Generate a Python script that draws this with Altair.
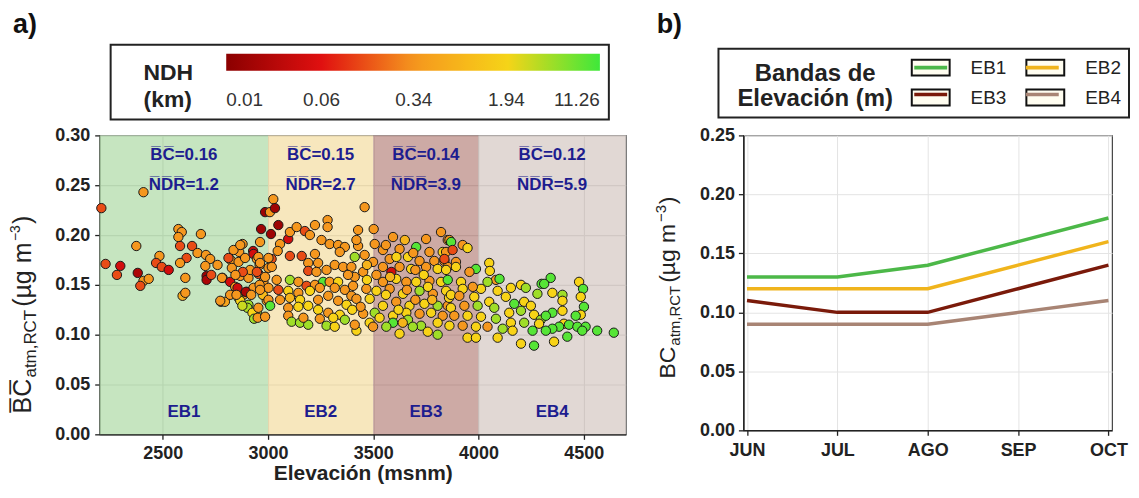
import altair as alt
import pandas as pd

FONT = "Liberation Sans"
INK = "#222222"
NAVY = "#1d1d8f"
CREAM = "#fffdf0"

# ---------------- panel a : points (elevation, BC, NDH) ----------------
elev = [2408, 2208, 2574, 2590, 2574, 2681, 2374, 2582, 2639, 2665, 2705, 2725, 2484, 2613, 2228, 2298,
        2468, 2495, 2528, 2582, 2702, 2760, 2282, 2381, 2408, 2433, 2393, 2607, 2708, 2708, 2730, 2784,
        2594, 2607, 2776, 2795,
        2879, 2929, 2863, 2823, 2836, 2868, 2812, 2860, 2891, 2931, 2947, 2828, 2781, 2820, 2868, 2907,
        2955, 2844, 2883, 2860, 2899, 2931, 2978, 2907, 2947, 2939, 2868, 2994, 2773, 2820, 2855, 2895,
        2850, 2902, 2926, 2934, 2878, 3002, 3017, 2962, 2960, 2915, 2880, 2845, 2960, 2920, 2975,
        3025, 2986, 3009, 3033, 3049, 2967, 3014, 3096, 3104, 3136, 3175, 3199, 3223, 3283, 3283, 3254,
        3057, 3046, 3104, 3160, 3223, 3293, 3333, 3365, 3341, 2954, 3002, 2962, 3018, 2947, 2986, 3191,
        3238, 3191, 3230, 3278, 3317, 3357, 3396, 3104, 3144, 3183, 3223, 3262, 3293, 3333, 3041, 3002,
        2962, 3049, 3096, 3144, 3199, 3246, 3317, 3365, 3396, 3002, 3057, 3104, 3152, 3191, 3238, 3286,
        3333, 3373, 2954, 3010, 3096, 3144, 3238, 3286, 3341, 3096, 3112, 3152, 3191, 3246, 3278, 3317,
        3365, 2951, 2986, 3168, 3310,
        3459, 3428, 3502, 3594, 3751, 3822, 3854, 3507, 3428, 3704, 3625, 3546, 3767, 3830, 3412, 3459,
        3499, 3578, 3665, 3720, 3790, 3838, 3546, 3586, 3625, 3680, 3751, 3806, 3854, 3452, 3515, 3412,
        3546, 3609, 3657, 3704, 3767, 3822, 3404, 3467, 3515, 3578, 3641, 3720, 3783, 3846, 3420, 3483,
        3546, 3609, 3672, 3743, 3806, 3854, 3452, 3507, 3594, 3657, 3720, 3775, 3830, 3483, 3530, 3594,
        3665, 3727, 3806, 3420, 3412, 3499, 3625, 3759, 3806, 3562, 3688,
        3560, 3650, 3690, 3610, 3700, 3580, 3740, 3660, 3760, 3620, 3700, 3780, 3860, 3560, 3640,
        3420, 3470, 3380, 3440, 3470, 3400,
        3862, 3925, 3948, 3870, 3846, 3877, 3838, 3893, 4051, 4054, 3988, 4083, 4100, 4043, 3957, 3854,
        3917, 3893, 3846, 4154, 4202, 4225, 4280, 4300, 4091, 4130, 4012, 3973, 3925, 3869, 3909, 3980,
        4051, 4217, 4249, 4170, 3869, 3933, 3996, 4075, 4146, 4202, 4264, 4296, 3885, 3948, 4012, 4083,
        4154, 4217, 3862, 3925, 3988, 4043, 4115, 4162, 4257, 3948, 3988, 4091, 4202, 4264,
        4343, 4312, 4351, 4399, 4399, 4478, 4497, 4486, 4501, 4486, 4462, 4399, 4351, 4320, 4288, 4406,
        4383, 4351, 4320, 4430, 4470, 4509, 4564, 4643, 4422, 4359, 4493]
bc = [0.243, 0.227, 0.206, 0.203, 0.198, 0.201, 0.189, 0.189, 0.189, 0.182, 0.180, 0.176, 0.179, 0.177, 0.171, 0.169,
      0.172, 0.168, 0.165, 0.172, 0.169, 0.170, 0.160, 0.162, 0.154, 0.156, 0.149, 0.157, 0.159, 0.155, 0.160, 0.157,
      0.139, 0.142, 0.133, 0.133,
      0.191, 0.184, 0.183, 0.175, 0.185, 0.190, 0.177, 0.173, 0.177, 0.181, 0.176, 0.167, 0.157, 0.153, 0.159, 0.157,
      0.161, 0.148, 0.140, 0.137, 0.143, 0.147, 0.153, 0.130, 0.122, 0.117, 0.134, 0.134, 0.134, 0.140, 0.147, 0.143,
      0.140, 0.127, 0.122, 0.116, 0.129, 0.167, 0.176, 0.193, 0.170, 0.165, 0.163, 0.160, 0.150, 0.140, 0.140,
      0.236, 0.223, 0.223, 0.227, 0.210, 0.206, 0.201, 0.196, 0.203, 0.208, 0.204, 0.200, 0.210, 0.215, 0.208, 0.195,
      0.191, 0.184, 0.179, 0.179, 0.181, 0.191, 0.190, 0.188, 0.183, 0.178, 0.177, 0.172, 0.168, 0.163, 0.158, 0.172,
      0.172, 0.164, 0.163, 0.165, 0.170, 0.168, 0.168, 0.155, 0.153, 0.149, 0.150, 0.153, 0.153, 0.153, 0.155, 0.147,
      0.145, 0.145, 0.144, 0.142, 0.144, 0.147, 0.147, 0.145, 0.139, 0.135, 0.135, 0.137, 0.135, 0.129, 0.135, 0.139,
      0.134, 0.130, 0.127, 0.129, 0.127, 0.128, 0.125, 0.122, 0.120, 0.119, 0.113, 0.112, 0.110, 0.116, 0.109, 0.108,
      0.115, 0.117, 0.118, 0.117, 0.117,
      0.228, 0.205, 0.206, 0.198, 0.196, 0.203, 0.195, 0.191, 0.189, 0.188, 0.186, 0.185, 0.183, 0.183, 0.178, 0.180,
      0.173, 0.176, 0.178, 0.174, 0.174, 0.174, 0.168, 0.163, 0.168, 0.166, 0.168, 0.166, 0.168, 0.163, 0.160, 0.158,
      0.153, 0.156, 0.153, 0.153, 0.154, 0.153, 0.149, 0.146, 0.144, 0.146, 0.141, 0.144, 0.141, 0.144, 0.136, 0.136,
      0.129, 0.133, 0.129, 0.131, 0.129, 0.129, 0.121, 0.122, 0.119, 0.122, 0.121, 0.122, 0.119, 0.112, 0.117, 0.112,
      0.115, 0.109, 0.112, 0.104, 0.110, 0.108, 0.101, 0.103, 0.100, 0.108, 0.108,
      0.190, 0.195, 0.182, 0.178, 0.165, 0.158, 0.160, 0.145, 0.148, 0.125, 0.135, 0.135, 0.137, 0.140, 0.112,
      0.195, 0.170, 0.160, 0.128, 0.155, 0.125,
      0.195, 0.190, 0.187, 0.193, 0.183, 0.185, 0.176, 0.173, 0.172, 0.164, 0.166, 0.155, 0.156, 0.153, 0.163, 0.155,
      0.153, 0.168, 0.165, 0.147, 0.150, 0.147, 0.141, 0.151, 0.144, 0.138, 0.146, 0.148, 0.146, 0.140, 0.139, 0.138,
      0.133, 0.133, 0.129, 0.131, 0.127, 0.129, 0.129, 0.127, 0.122, 0.124, 0.120, 0.115, 0.119, 0.119, 0.118, 0.116,
      0.112, 0.112, 0.109, 0.109, 0.108, 0.108, 0.106, 0.104, 0.104, 0.097, 0.097, 0.097, 0.091, 0.089,
      0.157, 0.151, 0.142, 0.140, 0.134, 0.153, 0.146, 0.138, 0.128, 0.120, 0.119, 0.124, 0.122, 0.119, 0.111, 0.111,
      0.108, 0.106, 0.104, 0.110, 0.108, 0.108, 0.104, 0.102, 0.098, 0.093, 0.104]
ndh = [0.35, 0.13, 0.35, 0.35, 0.35, 0.35, 0.35, 0.13, 0.13, 0.35, 0.35, 0.35, 0.35, 0.13, 0.13, 0.045,
       0.13, 0.13, 0.045, 0.35, 0.35, 0.35, 0.13, 0.02, 0.35, 0.35, 0.13, 0.35, 0.015, 0.02, 0.13, 0.35,
       0.6, 0.35, 0.35, 0.5,
       0.35, 0.03, 0.35, 0.35, 0.35, 0.35, 0.13, 0.35, 0.35, 0.045, 0.35, 0.35, 0.35, 0.045, 0.35, 0.35,
       0.13, 0.35, 0.35, 4.5, 0.015, 0.35, 0.35, 4.5, 4.5, 2.5, 1.9, 0.35, 0.35, 0.35, 0.04, 0.02,
       0.35, 4.0, 1.9, 4.5, 3.0, 0.35, 0.13, 0.35, 0.35, 0.35, 0.13, 0.35, 0.35, 0.35, 1.0,
       0.35, 0.015, 0.35, 0.015, 0.015, 0.015, 0.015, 0.045, 0.35, 0.35, 0.13, 0.35, 0.35, 0.35, 0.35, 0.35,
       0.35, 0.35, 0.13, 0.13, 0.35, 0.35, 0.35, 0.35, 0.35, 0.35, 0.35, 0.35, 0.35, 0.13, 0.35, 0.35,
       0.35, 0.13, 0.35, 0.35, 0.35, 0.35, 0.35, 4.5, 0.35, 0.13, 0.35, 9.0, 0.35, 1.9, 0.35, 0.35,
       0.35, 0.13, 1.9, 0.35, 1.9, 0.35, 0.35, 0.35, 0.35, 0.35, 0.35, 0.8, 1.9, 1.9, 0.35, 0.35,
       0.35, 1.9, 0.35, 9.0, 0.35, 1.9, 1.9, 0.35, 1.9, 0.35, 4.5, 4.5, 4.5, 0.35, 4.5, 1.9,
       4.5, 0.35, 0.35, 0.35, 1.9,
       0.35, 0.35, 0.35, 0.35, 0.35, 0.35, 0.35, 0.35, 0.35, 9.0, 0.35, 0.35, 0.35, 1.9, 4.5, 0.35,
       0.35, 0.35, 1.9, 0.35, 0.35, 0.35, 0.35, 0.045, 0.35, 1.9, 0.35, 1.9, 0.35, 0.35, 0.35, 0.35,
       0.35, 1.9, 0.35, 1.9, 0.35, 1.9, 0.35, 0.35, 1.9, 0.35, 1.9, 4.5, 0.35, 1.9, 0.35, 1.9,
       1.9, 0.35, 1.9, 1.9, 4.5, 0.35, 0.35, 4.5, 1.9, 1.9, 0.35, 1.9, 0.35, 1.9, 1.9, 9.0,
       4.5, 4.5, 1.9, 1.9, 0.35, 0.35, 1.9, 1.9, 4.5, 4.5, 4.5,
       0.35, 0.8, 0.35, 1.9, 0.35, 0.8, 1.9, 0.35, 1.9, 1.9, 0.35, 0.8, 1.9, 1.9, 0.8,
       0.35, 0.8, 0.35, 0.35, 1.9, 1.9,
       0.35, 0.35, 1.9, 9.0, 0.35, 0.13, 0.13, 0.35, 1.9, 1.9, 9.0, 0.35, 9.0, 4.5, 0.35, 9.0,
       1.9, 1.9, 1.9, 1.9, 1.9, 4.5, 4.5, 9.0, 1.9, 1.9, 1.9, 0.35, 1.9, 1.9, 0.35, 1.9,
       1.9, 1.9, 1.9, 9.0, 1.9, 0.35, 4.5, 4.5, 1.9, 4.5, 1.9, 4.5, 0.35, 1.9, 1.9, 4.5,
       1.9, 4.5, 1.9, 0.35, 1.9, 0.35, 4.5, 1.9, 9.0, 1.9, 1.9, 1.9, 1.9, 9.0,
       9.0, 9.0, 1.9, 4.5, 1.9, 1.9, 9.0, 1.9, 9.0, 1.9, 9.0, 1.9, 9.0, 9.0, 1.9, 1.9,
       9.0, 9.0, 9.0, 9.0, 9.0, 9.0, 9.0, 9.0, 9.0, 1.9, 9.0]

band_names = ["EB1", "EB2", "EB3", "EB4"]
band_start = [2200, 3000, 3500, 4000]
band_end = [3000, 3500, 4000, 4700]
band_center = [2600, 3250, 3750, 4350]
band_bc = ["0.16", "0.15", "0.14", "0.12"]
band_ndr = ["1.2", "2.7", "3.9", "5.9"]
BAND_FILLS = ["#b9dfb2", "#f5e2ae", "#c29791", "#dacfca"]

ndh_ticks = [0.01, 0.06, 0.34, 1.94, 11.26]
NDH_COLORS = ["#8b0000", "#e01010", "#f5961e", "#f8d417", "#3ee83a"]

x_ticks_a = [2500, 3000, 3500, 4000, 4500]
y_ticks_a = [0.0, 0.05, 0.10, 0.15, 0.20, 0.25, 0.30]

# ---------------- panel b : monthly means ----------------
months = ["JUN", "JUL", "AGO", "SEP", "OCT"]
eb1 = [0.13, 0.13, 0.14, 0.16, 0.18]
eb2 = [0.12, 0.12, 0.12, 0.14, 0.16]
eb3 = [0.11, 0.10, 0.10, 0.12, 0.14]
eb4 = [0.09, 0.09, 0.09, 0.10, 0.11]
LINE_COLORS = ["#4cb848", "#f0b41c", "#7a1a0a", "#a88474"]
y_ticks_b = [0.0, 0.05, 0.10, 0.15, 0.20, 0.25]

# ---------------- tables ----------------
pts = pd.DataFrame({"elev": elev, "bc": bc, "ndh": ndh})
bands = pd.DataFrame({
    "band": band_names, "start": band_start, "end": band_end, "center": band_center,
    "bc_lab": ["B\u0305C\u0305=" + v for v in band_bc],
    "ndr_lab": ["N\u0305D\u0305R\u0305=" + v for v in band_ndr],
})
rows = []
for name, series in zip(band_names, [eb1, eb2, eb3, eb4]):
    for i, (m, v) in enumerate(zip(months, series)):
        rows.append({"month": m, "idx": i, "band": name, "band_key": name, "value": v})
lines_df = pd.DataFrame(rows)
one = pd.DataFrame({"k": [0]})


def piece(txt, x, y, size, angle=270, weight="normal", color=INK, baseline="alphabetic", align="left"):
    return alt.Chart(one).mark_text(
        text=txt, font=FONT, fontSize=size, fontWeight=weight, color=color,
        angle=angle, align=align, baseline=baseline,
    ).encode(x=alt.value(x), y=alt.value(y))


def axis(values, fmt, grid_color, label_pad, title=None, grid_width=1.0):
    kw = dict(grid=True, gridColor=grid_color, gridWidth=grid_width,
              labelFont=FONT, labelFontSize=18, labelFontWeight="bold", labelColor=INK,
              labelPadding=label_pad, tickColor=INK, tickSize=5, tickWidth=1.3,
              domainColor=INK, domainWidth=1.5, labelAngle=0)
    if values is not None:
        kw["values"] = values
    if fmt is not None:
        kw["format"] = fmt
    if title is None:
        kw["title"] = None
    else:
        kw.update(title=title, titleFont=FONT, titleFontSize=21, titleFontWeight="bold",
                  titleColor=INK, titlePadding=0)
    return alt.Axis(**kw)


# ---------------- panel a ----------------
W_A, H_A = 528, 300
xa = alt.Scale(domain=[2200, 4700], nice=False, zero=False)
ya = alt.Scale(domain=[0, 0.30], nice=False)
XAX_A = axis(x_ticks_a, "d", "#a8a8a8", 5, "Elevación (msnm)", 1.2)
YAX_A = axis(y_ticks_a, ".2f", "#a8a8a8", 5, None, 1.2)

legend_a = alt.Legend(
    orient="none", legendX=11, legendY=-91, direction="horizontal",
    title="NDH", titleOrient="left", titleAlign="left", titleBaseline="top",
    titleFont=FONT, titleFontSize=23, titleFontWeight="bold", titleColor="transparent",
    titlePadding=57,
    values=ndh_ticks, format=".2f", labelFont=FONT, labelFontSize=19, labelColor="#333333",
    labelOffset=21, gradientLength=375, gradientThickness=17, gradientStrokeWidth=0,
    fillColor="transparent", strokeColor=INK, padding=9,
)

band_layer = alt.Chart(bands).mark_rect(opacity=0.82).encode(
    x=alt.X("start:Q", scale=xa, axis=XAX_A),
    x2="end:Q",
    y=alt.datum(0.0),
    y2=alt.datum(0.30),
    fill=alt.Fill("band:N", scale=alt.Scale(domain=band_names, range=BAND_FILLS), legend=None),
)

pts_layer = alt.Chart(pts).mark_circle(size=88, opacity=1, stroke="#1a1a1a", strokeWidth=1).encode(
    x=alt.X("elev:Q", scale=xa, axis=XAX_A),
    y=alt.Y("bc:Q", scale=ya, axis=YAX_A),
    color=alt.Color("ndh:Q", scale=alt.Scale(type="log", domain=ndh_ticks, range=NDH_COLORS,
                                               interpolate="rgb"), legend=legend_a),
)

ann_base = alt.Chart(bands).mark_text(font=FONT, fontSize=17, fontWeight="bold", color=NAVY)
bc_txt = ann_base.encode(x=alt.X("center:Q", scale=xa, axis=XAX_A), y=alt.datum(0.28), text="bc_lab:N")
ndr_txt = ann_base.encode(x=alt.X("center:Q", scale=xa, axis=XAX_A), y=alt.datum(0.25), text="ndr_lab:N")
eb_txt = ann_base.encode(x=alt.X("center:Q", scale=xa, axis=XAX_A), y=alt.datum(0.022), text="band:N")

ytitle_a = [
    piece("B\u0305C\u0305", -69, 279, 25),
    piece("atm,RCT", -64, 243, 17),
    piece("(\u00b5g m", -69, 172, 25),
    piece("\u22123", -80, 106, 14),
    piece(")", -69, 89, 25),
]
leg_title_a = [
    piece("NDH", 44, -56, 23, angle=0, weight="bold"),
    piece("(km)", 44, -28, 23, angle=0, weight="bold"),
]
tag_a = piece("a)", -87, -111, 27, angle=0, weight="bold", color="#111111", baseline="middle")

panel_a = alt.layer(band_layer, pts_layer, bc_txt, ndr_txt, eb_txt, *ytitle_a, *leg_title_a,
                    tag_a).properties(width=W_A, height=H_A)

# ---------------- panel b ----------------
W_B, H_B = 370, 296
xb = alt.Scale(domain=months, padding=0.04)
yb = alt.Scale(domain=[0, 0.25], nice=False)
XAX_B = axis(None, None, "#e4e4e4", 6)
YAX_B = axis(y_ticks_b, ".2f", "#e4e4e4", 4)

BOX = "M-1.9,-0.8H1.9V0.8H-1.9Z"
STRIPE = "M-1.55,-0.08H1.55V0.08H-1.55Z"
common_leg = dict(
    orient="none", legendX=-25, legendY=-87, columns=2, direction="horizontal",
    title="Elevación (m)", titleOrient="left", titleAlign="left", titleBaseline="top",
    titleFont=FONT, titleFontSize=24, titleFontWeight="bold", titleColor="transparent",
    titlePadding=37,
    labelFont=FONT, labelFontSize=19, labelOffset=29, columnPadding=16, rowPadding=6,
    symbolSize=400, symbolStrokeWidth=2, padding=8,
)
legend_boxes = alt.Legend(
    **common_leg, labelColor=INK, fillColor="transparent", strokeColor=INK,
    symbolFillColor=CREAM, symbolStrokeColor="#111111", symbolOpacity=1,
)
legend_lines = alt.Legend(
    **common_leg, labelColor="transparent", symbolType=STRIPE, symbolOpacity=1,
    fillColor="transparent", strokeColor="transparent",
)

box_layer = alt.Chart(lines_df).mark_point(filled=True, opacity=0).encode(
    x=alt.X("month:O", scale=xb, sort=months, axis=XAX_B),
    y=alt.Y("value:Q", scale=yb, axis=YAX_B),
    shape=alt.Shape("band_key:N", scale=alt.Scale(range=[BOX, BOX, BOX, BOX]), legend=legend_boxes),
    fill=alt.Fill("band_key:N", scale=alt.Scale(range=[CREAM, CREAM, CREAM, CREAM]), legend=None),
)
line_layer = alt.Chart(lines_df).mark_line(strokeWidth=3.5).encode(
    x=alt.X("month:O", scale=xb, sort=months, axis=XAX_B),
    y=alt.Y("value:Q", scale=yb, axis=YAX_B),
    color=alt.Color("band:N", scale=alt.Scale(domain=band_names, range=LINE_COLORS), legend=legend_lines),
    order="idx:Q",
)

ytitle_b = [
    piece("BC", -69, 244, 23),
    piece("atm,RCT", -64, 211, 15),
    piece("(\u00b5g m", -69, 148, 23),
    piece("\u22123", -78, 87, 15),
    piece(")", -69, 69, 23),
]
leg_title_b = [
    piece("Bandas de", 72, -55, 24, angle=0, weight="bold", align="center"),
    piece("Elevación (m)", 72, -30, 24, angle=0, weight="bold", align="center"),
]
tag_b = piece("b)", -87, -111, 27, angle=0, weight="bold", color="#111111", baseline="middle")

panel_b = alt.layer(box_layer, line_layer, *ytitle_b, *leg_title_b, tag_b).properties(
    width=W_B, height=H_B)

chart = alt.hconcat(panel_a, panel_b, spacing=26).resolve_scale(
    color="independent", shape="independent", fill="independent"
).resolve_legend(
    color="independent", shape="independent", fill="independent"
).properties(
    padding={"left": 0, "top": 1, "right": 0, "bottom": 0}
).configure_view(stroke="#444444", strokeWidth=1.2).configure_legend(strokeWidth=2)

chart.save("out.html", embed_options={"renderer": "svg", "actions": False})
